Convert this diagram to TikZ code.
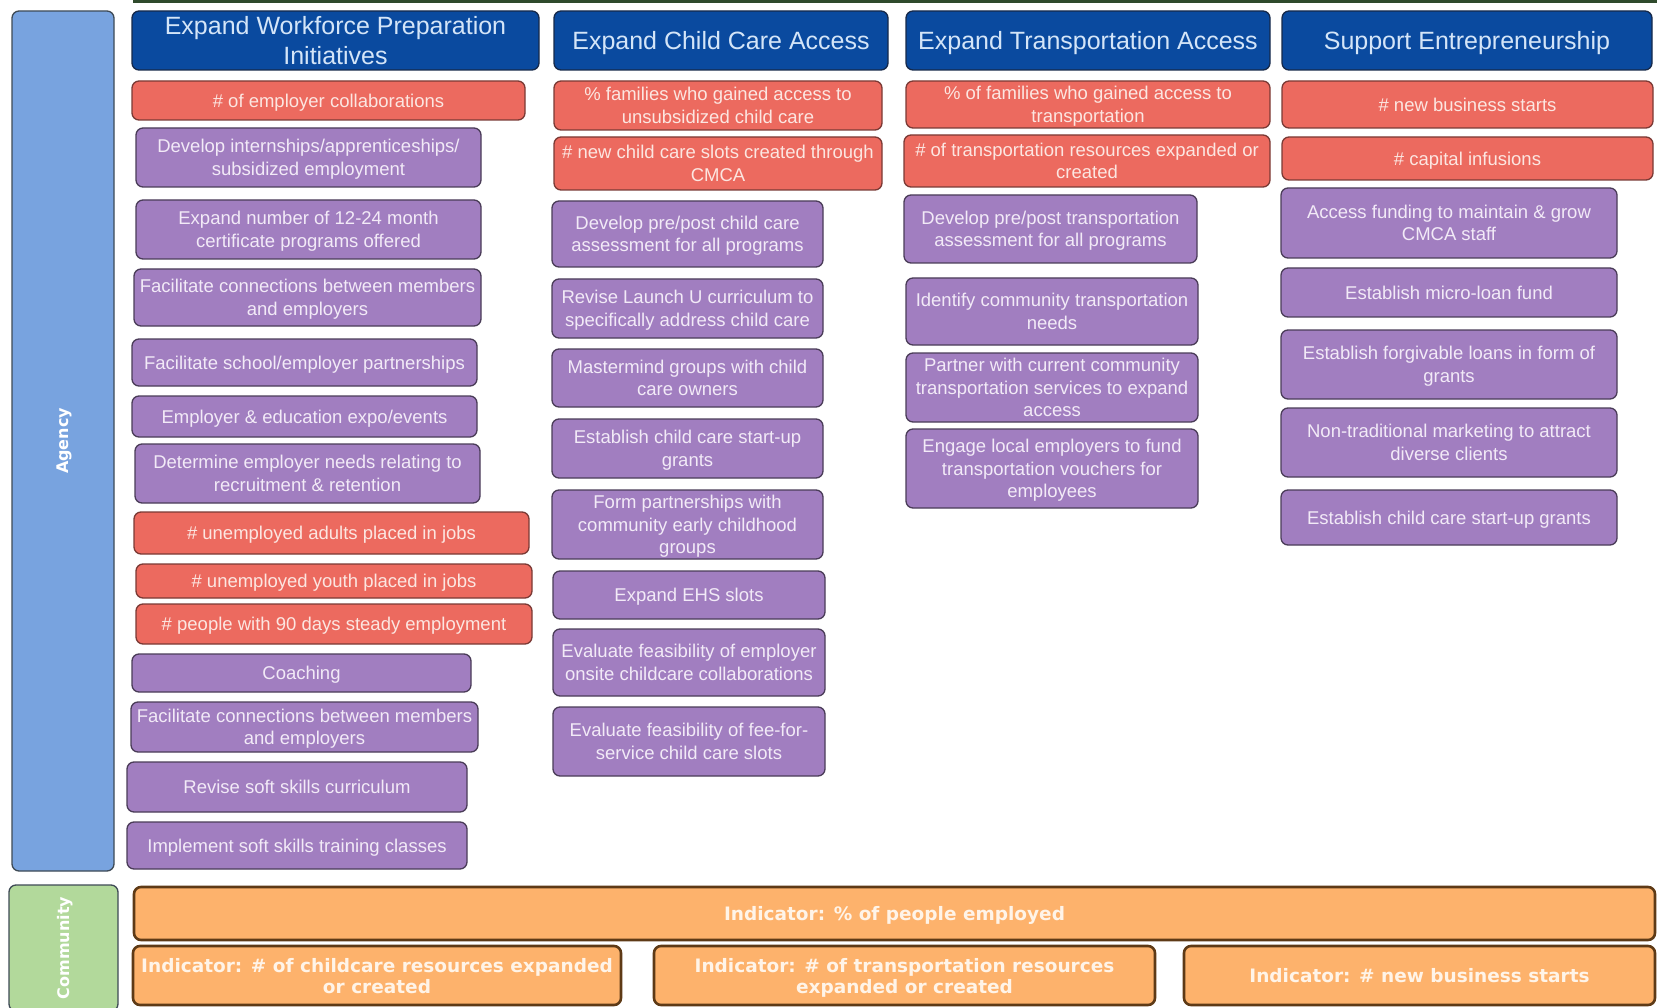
\documentclass[tikz,border=0pt]{standalone}
\usepackage{fontspec}
\setmainfont{Liberation Sans}
\newfontfamily\indfont{DejaVu Sans}
\usepackage{tikz}
\usetikzlibrary{positioning}

\definecolor{headblue}{HTML}{0A4A9F}
\definecolor{headline}{HTML}{16294A}
\definecolor{headtext}{HTML}{D4E5F8}
\definecolor{metricred}{HTML}{EC6A5F}
\definecolor{metricline}{HTML}{7A3A35}
\definecolor{metrictext}{HTML}{FCE6E1}
\definecolor{actpurple}{HTML}{A17EC0}
\definecolor{actline}{HTML}{4A3C58}
\definecolor{acttext}{HTML}{F2EAF7}
\definecolor{agencyblue}{HTML}{78A3DF}
\definecolor{commgreen}{HTML}{B2D99B}
\definecolor{sideline}{HTML}{3E4A55}
\definecolor{indorange}{HTML}{FDB26C}
\definecolor{indline}{HTML}{5E3A16}
\definecolor{indtext}{HTML}{FFF4E8}
\definecolor{topstrip}{HTML}{2F4A2C}

\begin{document}
\begin{tikzpicture}[
  x=1pt, y=-1pt,
  box/.style={draw, rounded corners=7pt, align=center, inner sep=1pt,
    line width=1.3pt, text depth=0pt},
  head/.style={box, fill=headblue, draw=headline, text=headtext,
    font=\fontsize{25}{30}\selectfont},
  metric/.style={box, fill=metricred, draw=metricline, text=metrictext,
    font=\fontsize{18.5}{22.5}\selectfont},
  action/.style={box, fill=actpurple, draw=actline, text=acttext,
    font=\fontsize{18.5}{22.5}\selectfont},
  indic/.style={box, fill=indorange, draw=indline, line width=2.6pt,
    text=indtext, font=\indfont\bfseries\fontsize{18.5}{21}\selectfont},
  side/.style={box, rotate=90, draw=sideline, text=white,
    font=\indfont\bfseries\fontsize{16}{19}\selectfont}
]
\useasboundingbox (0,0) rectangle (1657,1008);
\fill[topstrip] (133,-6) rectangle (1660,3);

% side bands
\node[side, fill=agencyblue, minimum width=860, minimum height=102] (agency) at (63,441) {Agency};
\node[side, fill=commgreen, minimum width=126, minimum height=109] (community) at (63.5,948) {Community};

% headers
\node[head, minimum width=407, minimum height=59] (hWork) at (335.5,40.5) {Expand Workforce Preparation\\Initiatives};
\node[head, minimum width=334, minimum height=59] (hChild) at (721,40.5) {Expand Child Care Access};
\node[head, minimum width=364, minimum height=59] (hTrans) at (1088,40.5) {Expand Transportation Access};
\node[head, minimum width=370, minimum height=59] (hEntre) at (1467,40.5) {Support Entrepreneurship};

% workforce column
\node[metric, minimum width=393, minimum height=39] (mWork1) at (328.5,100.5) {\# of employer collaborations};
\node[action, minimum width=345, minimum height=59] (aWork1) at (308.5,157.5) {Develop internships/apprenticeships/\\subsidized employment};
\node[action, minimum width=345, minimum height=59] (aWork2) at (308.5,229.5) {Expand number of 12-24 month\\certificate programs offered};
\node[action, minimum width=347, minimum height=57] (aWork3) at (307.5,297.5) {Facilitate connections between members\\and employers};
\node[action, minimum width=345, minimum height=47] (aWork4) at (304.5,362.5) {Facilitate school/employer partnerships};
\node[action, minimum width=345, minimum height=41] (aWork5) at (304.5,416.5) {Employer \& education expo/events};
\node[action, minimum width=345, minimum height=59] (aWork6) at (307.5,473.5) {Determine employer needs relating to\\recruitment \& retention};
\node[metric, minimum width=395, minimum height=42] (mWork2) at (331.5,533) {\# unemployed adults placed in jobs};
\node[metric, minimum width=396, minimum height=34] (mWork3) at (334,581) {\# unemployed youth placed in jobs};
\node[metric, minimum width=396, minimum height=40] (mWork4) at (334,624) {\# people with 90 days steady employment};
\node[action, minimum width=339, minimum height=38] (aWork7) at (301.5,673) {Coaching};
\node[action, minimum width=347, minimum height=50] (aWork8) at (304.5,727) {Facilitate connections between members\\and employers};
\node[action, minimum width=340, minimum height=50] (aWork9) at (297,787) {Revise soft skills curriculum};
\node[action, minimum width=340, minimum height=47] (aWork10) at (297,845.5) {Implement soft skills training classes};

% child care column
\node[metric, minimum width=328, minimum height=49] (mChild1) at (718,105.5) {\% families who gained access to\\unsubsidized child care};
\node[metric, minimum width=328, minimum height=53] (mChild2) at (718,163.5) {\# new child care slots created through\\CMCA};
\node[action, minimum width=271, minimum height=66] (aChild1) at (687.5,234) {Develop pre/post child care\\assessment for all programs};
\node[action, minimum width=271, minimum height=59] (aChild2) at (687.5,308.5) {Revise Launch U curriculum to\\specifically address child care};
\node[action, minimum width=271, minimum height=58] (aChild3) at (687.5,378) {Mastermind groups with child\\care owners};
\node[action, minimum width=271, minimum height=59] (aChild4) at (687.5,448.5) {Establish child care start-up\\grants};
\node[action, minimum width=271, minimum height=69] (aChild5) at (687.5,524.5) {Form partnerships with\\community early childhood\\groups};
\node[action, minimum width=272, minimum height=48] (aChild6) at (689,595) {Expand EHS slots};
\node[action, minimum width=272, minimum height=67] (aChild7) at (689,662.5) {Evaluate feasibility of employer\\onsite childcare collaborations};
\node[action, minimum width=272, minimum height=69] (aChild8) at (689,741.5) {Evaluate feasibility of fee-for-\\service child care slots};

% transportation column
\node[metric, minimum width=364, minimum height=47] (mTrans1) at (1088,104.5) {\% of families who gained access to\\transportation};
\node[metric, minimum width=366, minimum height=52] (mTrans2) at (1087,161) {\# of transportation resources expanded or\\created};
\node[action, minimum width=293, minimum height=68] (aTrans1) at (1050.5,229) {Develop pre/post transportation\\assessment for all programs};
\node[action, minimum width=292, minimum height=67] (aTrans2) at (1052,311.5) {Identify community transportation\\needs};
\node[action, minimum width=292, minimum height=69] (aTrans3) at (1052,387.5) {Partner with current community\\transportation services to expand\\access};
\node[action, minimum width=292, minimum height=79] (aTrans4) at (1052,468.5) {Engage local employers to fund\\transportation vouchers for\\employees};

% entrepreneurship column
\node[metric, minimum width=371, minimum height=47] (mEntre1) at (1467.5,104.5) {\# new business starts};
\node[metric, minimum width=371, minimum height=43] (mEntre2) at (1467.5,158.5) {\# capital infusions};
\node[action, minimum width=336, minimum height=70] (aEntre1) at (1449,223) {Access funding to maintain \& grow\\CMCA staff};
\node[action, minimum width=336, minimum height=49] (aEntre2) at (1449,292.5) {Establish micro-loan fund};
\node[action, minimum width=336, minimum height=69] (aEntre3) at (1449,364.5) {Establish forgivable loans in form of\\grants};
\node[action, minimum width=336, minimum height=69] (aEntre4) at (1449,442.5) {Non-traditional marketing to attract\\diverse clients};
\node[action, minimum width=336, minimum height=55] (aEntre5) at (1449,517.5) {Establish child care start-up grants};

% community indicators
\node[indic, minimum width=1521, minimum height=53] (iEmploy) at (894.5,913.5) {Indicator: \% of people employed};
\node[indic, minimum width=488, minimum height=59] (iChild) at (377,975.5) {Indicator: \# of childcare resources expanded\\or created};
\node[indic, minimum width=501, minimum height=59] (iTrans) at (904.5,975.5) {Indicator: \# of transportation resources\\expanded or created};
\node[indic, minimum width=471, minimum height=59] (iEntre) at (1419.5,975.5) {Indicator: \# new business starts};
\end{tikzpicture}
\end{document}
